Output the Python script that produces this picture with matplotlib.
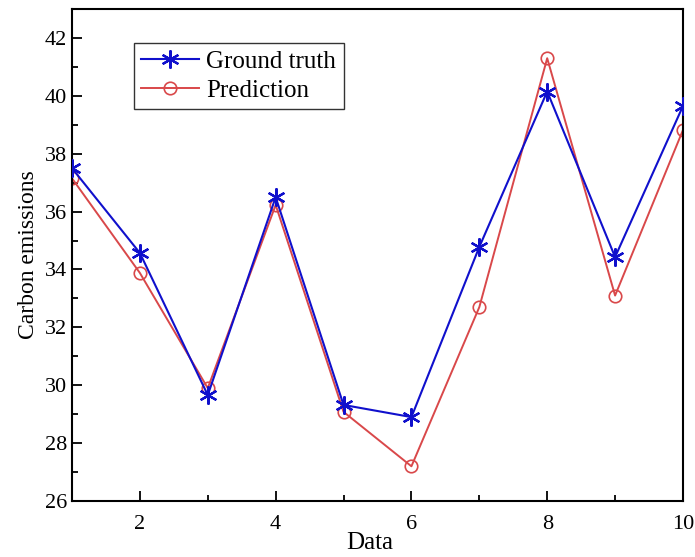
import matplotlib.pyplot as plt
from matplotlib.ticker import MultipleLocator

plt.rcParams['font.family'] = ['Liberation Serif', 'DejaVu Serif']

# values
data_idx = [1, 2, 3, 4, 5, 6, 7, 8, 9, 10]
ground_truth = [37.5, 34.57, 29.66, 36.5, 29.32, 28.9, 34.78, 40.15, 34.43, 39.65]
prediction = [37.15, 33.88, 29.9, 36.23, 29.08, 27.2, 32.7, 41.3, 33.1, 38.82]

fig = plt.figure(figsize=(6.95, 5.57), dpi=100)
ax = fig.add_axes([0.1036, 0.1005, 0.8791, 0.8833])

ax.plot(data_idx, ground_truth, color='#1010CC', lw=1.5, marker=(6, 2, 0),
        markersize=13, markeredgewidth=1.6, label='Ground truth', zorder=3)
ax.plot(data_idx, prediction, color='#D9484A', lw=1.4, marker='o',
        markersize=9, markerfacecolor='none', markeredgewidth=1.2,
        label='Prediction', zorder=2)

ax.set_xlim(1, 10)
ax.set_ylim(26, 43)
ax.xaxis.set_major_locator(MultipleLocator(2))
ax.xaxis.set_minor_locator(MultipleLocator(1))
ax.yaxis.set_major_locator(MultipleLocator(2))
ax.yaxis.set_minor_locator(MultipleLocator(1))
ax.tick_params(which='both', direction='in', labelsize=16, width=1.3)
ax.tick_params(which='major', length=7)
ax.tick_params(which='minor', length=4)
ax.tick_params(axis='x', pad=10)
for s in ax.spines.values():
    s.set_linewidth(1.5)

ax.set_xlabel('Data', fontsize=18, labelpad=0)
ax.xaxis.set_label_coords(0.488, -0.062)
ax.set_ylabel('Carbon emissions', fontsize=17, labelpad=4)

leg = ax.legend(loc='upper left', bbox_to_anchor=(0.101, 0.931), fontsize=18,
                frameon=True, fancybox=False, edgecolor='black',
                handlelength=2.3, handletextpad=0.3, borderpad=0.3,
                labelspacing=0.25, borderaxespad=0)
leg.get_frame().set_linewidth(1.0)

fig.savefig('out.png', dpi=100)
